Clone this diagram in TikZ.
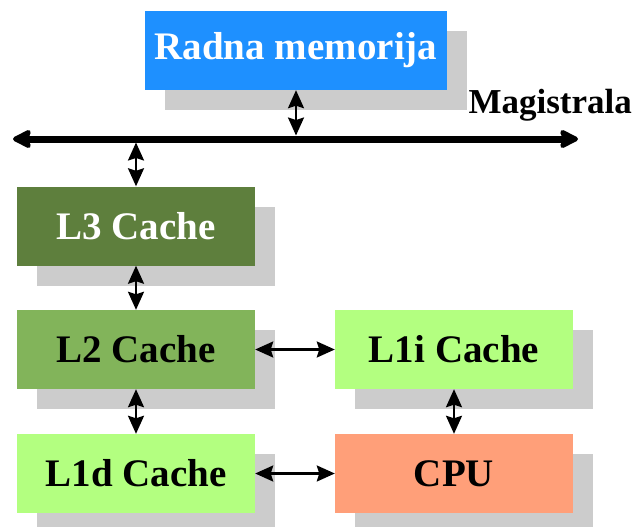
\documentclass[tikz,border=0pt]{standalone}
\usepackage{fontspec}
\setmainfont{Liberation Serif}
\usetikzlibrary{arrows.meta,shadows}
\definecolor{memblue}{HTML}{1E90FF}
\definecolor{lthree}{HTML}{5E7F3D}
\definecolor{ltwo}{HTML}{82B45A}
\definecolor{lone}{HTML}{B3FF80}
\definecolor{cpucol}{HTML}{FF9F79}
\definecolor{shadowgray}{HTML}{CCCCCC}
\begin{document}
\begin{tikzpicture}[x=1pt,y=-1pt,
  box/.style={minimum width=238pt, minimum height=79pt, inner sep=0pt,
    font=\fontsize{39}{39}\selectfont\bfseries,
    drop shadow={shadow xshift=20pt, shadow yshift=-20pt, fill=shadowgray, opacity=1}},
  link/.style={line width=2.2pt, {Stealth[length=18pt,width=16pt,inset=2.5pt]}-{Stealth[length=18pt,width=16pt,inset=2.5pt]}},
  busline/.style={line width=7pt, {Stealth[length=22pt,width=22pt,inset=4pt,round]}-{Stealth[length=22pt,width=22pt,inset=4pt,round]}}]
\useasboundingbox (0,0) rectangle (637,527);
\node[box, fill=memblue, text=white, minimum width=302pt] (mem) at (296,50.5) {Radna memorija};
\node[box, fill=lthree, text=white] (l3) at (136,226) {L3 Cache};
\node[box, fill=ltwo] (l2) at (136,349.5) {L2 Cache};
\node[box, fill=lone] (l1i) at (454,349.5) {L1i Cache};
\node[box, fill=lone] (l1d) at (136,473.5) {L1d Cache};
\node[box, fill=cpucol] (cpu) at (454,473.5) {CPU};
\node[anchor=base east, inner sep=0pt, font=\fontsize{35}{35}\selectfont\bfseries] (mag) at (632,113) {Magistrala};
\coordinate (busL) at (13,139);
\coordinate (busR) at (578,139);
\draw[busline] (busL) -- (busR);
\coordinate (busTop) at (296,135.5);
\coordinate (busBot) at (136,142.5);
\draw[link] (mem.south) -- (busTop);
\draw[link] (busBot) -- (l3.north);
\draw[link] (l3.south) -- (l2.north);
\draw[link] (l2.south) -- (l1d.north);
\draw[link] (l2.east) -- (l1i.west);
\draw[link] (l1i.south) -- (cpu.north);
\draw[link] (l1d.east) -- (cpu.west);
\end{tikzpicture}
\end{document}
